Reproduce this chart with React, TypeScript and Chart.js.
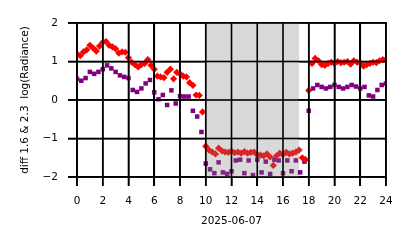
import React, { useEffect, useRef } from "react";
import { Chart, registerables } from "chart.js";

Chart.register(...registerables);

// ---- data ----
const RED_STEP_H = 0.25; // red diamonds every 15 minutes, starting 00:00
const redValues: number[] = [
  1.2, 1.15, 1.25, 1.3,
  1.42, 1.35, 1.27, 1.4,
  1.5, 1.52, 1.42, 1.38,
  1.33, 1.22, 1.25, 1.24,
  1.1, 0.98, 0.92, 0.86,
  0.92, 0.95, 1.05, 0.9,
  0.8, 0.62, 0.6, 0.58,
  0.72, 0.8, 0.55, 0.72,
  0.68, 0.62, 0.6, 0.45,
  0.38, 0.13, 0.12, -0.31,
  -1.2, -1.3, -1.35, -1.4,
  -1.25, -1.32, -1.35, -1.36,
  -1.33, -1.37, -1.35, -1.38,
  -1.34, -1.38, -1.36, -1.35,
  -1.42, -1.43, -1.45, -1.4,
  -1.48, -1.7, -1.45, -1.38,
  -1.42, -1.36, -1.4, -1.38,
  -1.35, -1.3, -1.5, -1.55,
  0.25, 0.95, 1.08, 1.02,
  0.92, 0.9, 0.95, 0.98,
  0.95, 1.0, 0.97, 0.98,
  1.0, 0.93, 1.02, 0.98,
  0.96, 0.88, 0.92, 0.95,
  0.98, 0.97, 1.02, 1.05,
  1.05,
];

const PURPLE_STEP_H = 1 / 3; // purple squares every 20 minutes, starting 00:00
const purpleValues: number[] = [
  0.55, 0.5, 0.57,
  0.73, 0.68, 0.73,
  0.8, 0.9, 0.82,
  0.73, 0.64, 0.6,
  0.57, 0.26, 0.21,
  0.3, 0.43, 0.52,
  0.2, 0.02, 0.13,
  -0.13, 0.25, -0.09,
  0.1, 0.09, 0.09,
  -0.28, -0.43, -0.83,
  -1.65, -1.8, -1.9,
  -1.62, -1.88, -1.92,
  -1.85, -1.57, -1.55,
  -1.9, -1.57, -1.95,
  -1.55, -1.88, -1.6,
  -1.92, -1.55, -1.57,
  -1.9, -1.57, -1.85,
  -1.57, -1.88, -1.6,
  -0.28, 0.3, 0.39,
  0.34, 0.3, 0.34,
  0.39, 0.34, 0.3,
  0.34, 0.39, 0.35,
  0.3, 0.34, 0.12,
  0.09, 0.26, 0.39,
  0.43,
];

const xTicks = [0, 2, 4, 6, 8, 10, 12, 14, 16, 18, 20, 22, 24];
const yTicks = [-2, -1, 0, 1, 2];
const shadeStartH = 10.05;
const shadeEndH = 17.25;
const xTitle = "2025-06-07";
const yTitle = "diff 1.6 & 2.3  log(Radiance)";

const FONT = "'DejaVu Sans', sans-serif";
const fmt = (v: number) => (v < 0 ? "\u2212" + Math.abs(v) : String(v));
const inShade = (h: number) => h >= shadeStartH && h <= shadeEndH;

export default function App() {
  const ref = useRef<HTMLCanvasElement>(null);

  useEffect(() => {
    document.body.style.margin = "0";
    const canvas = ref.current;
    if (!canvas) return;

    // opaque light-grey span under the points (points inside it are muted instead)
    const shadePlugin = {
      id: "shade",
      beforeDatasetsDraw(chart: any) {
        const ctx: CanvasRenderingContext2D = chart.ctx;
        const a = chart.chartArea;
        const x0 = chart.scales.x.getPixelForValue(shadeStartH);
        const x1 = chart.scales.x.getPixelForValue(shadeEndH);
        ctx.save();
        ctx.fillStyle = "#d9d9d9";
        ctx.fillRect(x0, a.top, x1 - x0, a.bottom - a.top);
        ctx.restore();
      },
    };

    // black grid lines redrawn on top of points and shade
    const gridPlugin = {
      id: "blackgrid",
      afterDraw(chart: any) {
        const ctx: CanvasRenderingContext2D = chart.ctx;
        const a = chart.chartArea;
        const sx = chart.scales.x;
        const sy = chart.scales.y;
        ctx.save();
        ctx.fillStyle = "#000";
        xTicks.forEach((v) => {
          const px = sx.getPixelForValue(v);
          ctx.fillRect(px - 0.8, a.top - 0.8, 1.6, a.bottom - a.top + 9.8);
        });
        yTicks.forEach((v) => {
          const py = sy.getPixelForValue(v);
          ctx.fillRect(a.left - 9, py - 0.8, a.right - a.left + 9.8, 1.6);
        });
        ctx.restore();
      },
    };

    const chart = new Chart(canvas, {
      type: "scatter",
      data: {
        datasets: [
          {
            data: redValues.map((v, i) => ({ x: i * RED_STEP_H, y: v })),
            pointStyle: "rectRot",
            pointRadius: 3.6,
            pointBorderWidth: 0,
            backgroundColor: (c: any) => (c.raw && inShade(c.raw.x) ? "#d92626" : "#ff0000"),
          },
          {
            data: purpleValues.map((v, i) => ({ x: i * PURPLE_STEP_H, y: v })),
            pointStyle: "rect",
            pointRadius: 3.2,
            pointBorderWidth: 0,
            backgroundColor: (c: any) => (c.raw && inShade(c.raw.x) ? "#802680" : "#800080"),
          },
        ],
      },
      options: {
        animation: false,
        responsive: false,
        layout: { padding: { left: 0, right: 28, top: 23, bottom: 0 } },
        plugins: { legend: { display: false }, tooltip: { enabled: false } },
        scales: {
          x: {
            type: "linear",
            min: 0,
            max: 24,
            afterFit: (s: any) => {
              s.height = 71;
            },
            grid: { color: "#000", lineWidth: 1.6, tickLength: 9 },
            border: { display: true, color: "#000", width: 1.6 },
            ticks: {
              stepSize: 2,
              color: "#000",
              font: { family: FONT, size: 10.5 },
              padding: 9,
              maxRotation: 0,
              autoSkip: false,
              callback: (v: any) => fmt(Number(v)),
            },
            title: {
              display: true,
              text: xTitle,
              color: "#000",
              font: { family: FONT, size: 10.5 },
              padding: { top: 0, bottom: 20 },
            },
          },
          y: {
            type: "linear",
            min: -2,
            max: 2,
            afterFit: (s: any) => {
              s.width = 77;
            },
            grid: { color: "#000", lineWidth: 1.6, tickLength: 9 },
            border: { display: true, color: "#000", width: 1.6 },
            ticks: {
              stepSize: 1,
              color: "#000",
              font: { family: FONT, size: 10.5 },
              padding: 10,
              autoSkip: false,
              callback: (v: any) => fmt(Number(v)),
            },
            title: {
              display: true,
              text: yTitle,
              color: "#000",
              font: { family: FONT, size: 10.5 },
              padding: { top: 19, bottom: 0 },
            },
          },
        },
      },
      plugins: [shadePlugin, gridPlugin],
    });

    return () => chart.destroy();
  }, []);

  return (
    <div style={{ width: 414, height: 248 }}>
      <canvas ref={ref} width={414} height={248} style={{ display: "block" }} />
    </div>
  );
}
